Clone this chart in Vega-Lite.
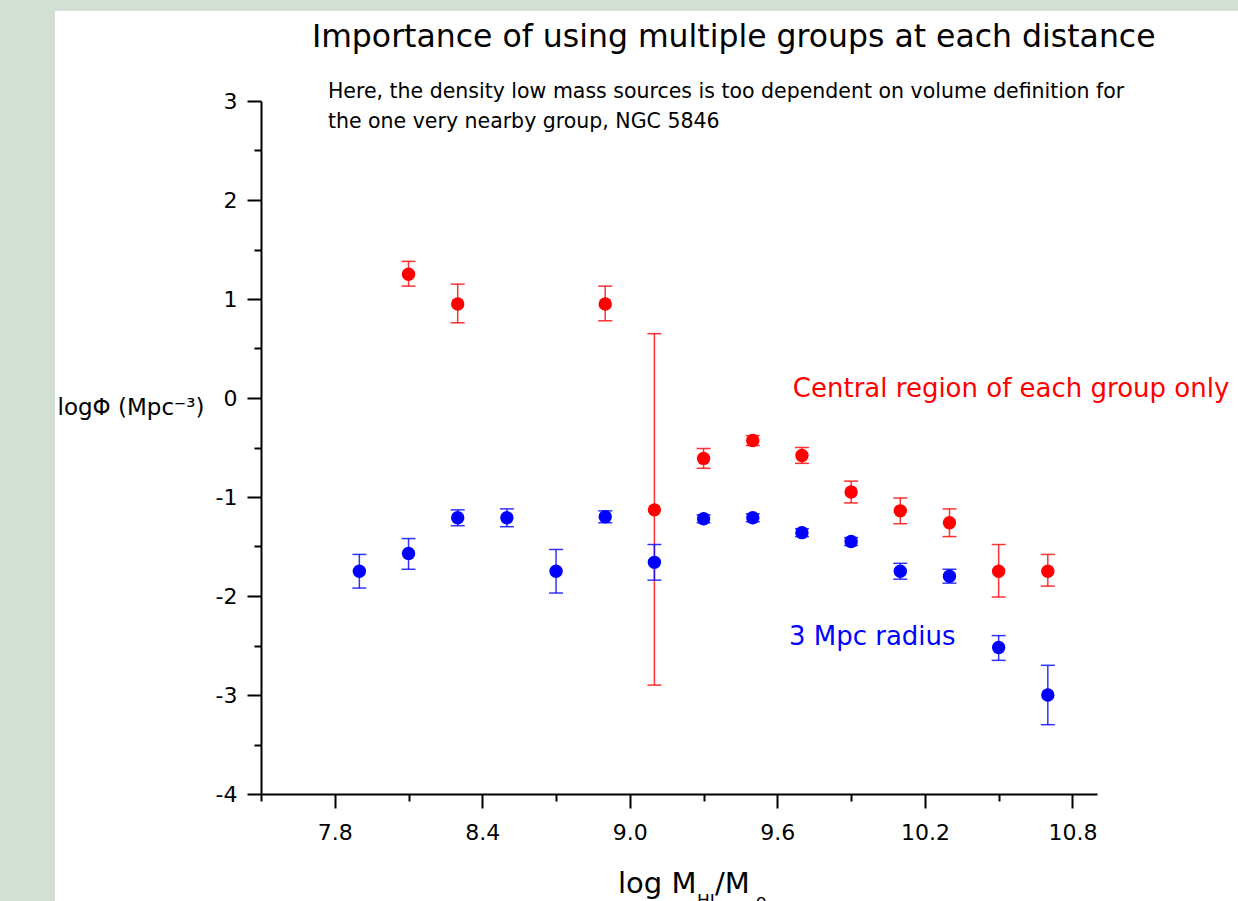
{
  "$schema": "https://vega.github.io/schema/vega-lite/v6.json",
  "width": 836,
  "height": 693,
  "autosize": {"type": "none"},
  "padding": {"left": 261, "top": 101, "right": 141, "bottom": 107},
  "background": "#d4dfd3",
  "config": {"view": {"stroke": null}, "font": "DejaVu Sans"},
  "datasets": {
    "lf": [
      {"group": "central", "logM": 8.1, "logPhi": 1.25, "lo": 1.13, "hi": 1.38},
      {"group": "central", "logM": 8.3, "logPhi": 0.95, "lo": 0.76, "hi": 1.15},
      {"group": "central", "logM": 8.9, "logPhi": 0.95, "lo": 0.78, "hi": 1.13},
      {"group": "central", "logM": 9.1, "logPhi": -1.13, "lo": -2.9, "hi": 0.65},
      {"group": "central", "logM": 9.3, "logPhi": -0.61, "lo": -0.71, "hi": -0.51},
      {"group": "central", "logM": 9.5, "logPhi": -0.43, "lo": -0.48, "hi": -0.38},
      {"group": "central", "logM": 9.7, "logPhi": -0.58, "lo": -0.66, "hi": -0.5},
      {"group": "central", "logM": 9.9, "logPhi": -0.95, "lo": -1.06, "hi": -0.84},
      {"group": "central", "logM": 10.1, "logPhi": -1.14, "lo": -1.27, "hi": -1.01},
      {"group": "central", "logM": 10.3, "logPhi": -1.26, "lo": -1.4, "hi": -1.12},
      {"group": "central", "logM": 10.5, "logPhi": -1.75, "lo": -2.01, "hi": -1.48},
      {"group": "central", "logM": 10.7, "logPhi": -1.75, "lo": -1.9, "hi": -1.58},
      {"group": "r3", "logM": 7.9, "logPhi": -1.75, "lo": -1.92, "hi": -1.58},
      {"group": "r3", "logM": 8.1, "logPhi": -1.57, "lo": -1.73, "hi": -1.42},
      {"group": "r3", "logM": 8.3, "logPhi": -1.21, "lo": -1.29, "hi": -1.13},
      {"group": "r3", "logM": 8.5, "logPhi": -1.21, "lo": -1.3, "hi": -1.12},
      {"group": "r3", "logM": 8.7, "logPhi": -1.75, "lo": -1.97, "hi": -1.53},
      {"group": "r3", "logM": 8.9, "logPhi": -1.2, "lo": -1.26, "hi": -1.14},
      {"group": "r3", "logM": 9.1, "logPhi": -1.66, "lo": -1.84, "hi": -1.48},
      {"group": "r3", "logM": 9.3, "logPhi": -1.22, "lo": -1.26, "hi": -1.18},
      {"group": "r3", "logM": 9.5, "logPhi": -1.21, "lo": -1.25, "hi": -1.17},
      {"group": "r3", "logM": 9.7, "logPhi": -1.36, "lo": -1.4, "hi": -1.32},
      {"group": "r3", "logM": 9.9, "logPhi": -1.45, "lo": -1.49, "hi": -1.41},
      {"group": "r3", "logM": 10.1, "logPhi": -1.75, "lo": -1.83, "hi": -1.67},
      {"group": "r3", "logM": 10.3, "logPhi": -1.8, "lo": -1.87, "hi": -1.73},
      {"group": "r3", "logM": 10.5, "logPhi": -2.52, "lo": -2.65, "hi": -2.4},
      {"group": "r3", "logM": 10.7, "logPhi": -3.0, "lo": -3.3, "hi": -2.7}
    ],
    "heading": [
      {"x": 7.707, "y": 3.545, "text": "Importance of using multiple groups at each distance"}
    ],
    "notes": [
      {"x": 7.772, "y": 3.03, "text": "Here, the density low  mass sources is too dependent on volume definition for"},
      {"x": 7.772, "y": 2.727, "text": "the one very nearby group, NGC 5846"}
    ],
    "centralLabel": [
      {"x": 9.663, "y": 0.01, "text": "Central region of each group only"}
    ],
    "r3Label": [
      {"x": 9.647, "y": -2.495, "text": "3 Mpc radius"}
    ],
    "xTitleMain": [
      {"x": 8.952, "y": -5.0, "text": "log M"},
      {"x": 9.346, "y": -5.0, "text": "/M"}
    ],
    "xTitleSub": [
      {"x": 9.273, "y": -5.14, "text": "HI"},
      {"x": 9.513, "y": -5.14, "text": "o"}
    ]
  },
  "layer": [
    {
      "data": {"values": [{}]},
      "mark": {"type": "rect", "color": "white"},
      "encoding": {
        "x": {"datum": 6.662, "type": "quantitative"},
        "x2": {"datum": 12.5},
        "y": {"datum": 3.91, "type": "quantitative"},
        "y2": {"datum": -7}
      }
    },
    {
      "data": {"name": "lf"},
      "mark": {"type": "rule", "strokeWidth": 1.5, "opacity": 0.8},
      "encoding": {
        "x": {"field": "logM", "type": "quantitative"},
        "y": {"field": "lo", "type": "quantitative"},
        "y2": {"field": "hi"},
        "color": {"field": "group", "type": "nominal", "scale": {"domain": ["central", "r3"], "range": ["#ff0000", "#0000ff"]}, "legend": null}
      }
    },
    {
      "data": {"name": "lf"},
      "mark": {"type": "tick", "orient": "horizontal", "size": 14, "thickness": 1.5, "opacity": 0.8},
      "encoding": {
        "x": {"field": "logM", "type": "quantitative"},
        "y": {"field": "lo", "type": "quantitative"},
        "color": {"field": "group", "type": "nominal", "legend": null}
      }
    },
    {
      "data": {"name": "lf"},
      "mark": {"type": "tick", "orient": "horizontal", "size": 14, "thickness": 1.5, "opacity": 0.8},
      "encoding": {
        "x": {"field": "logM", "type": "quantitative"},
        "y": {"field": "hi", "type": "quantitative"},
        "color": {"field": "group", "type": "nominal", "legend": null}
      }
    },
    {
      "data": {"name": "lf"},
      "mark": {"type": "circle", "size": 180, "opacity": 1},
      "encoding": {
        "x": {
          "field": "logM", "type": "quantitative",
          "scale": {"domain": [7.5, 10.9], "nice": false, "zero": false},
          "axis": {
            "title": null,
            "zindex": 1,
            "grid": false,
            "values": [7.5, 7.8, 8.1, 8.4, 8.7, 9.0, 9.3, 9.6, 9.9, 10.2, 10.5, 10.8],
            "labelExpr": "abs((datum.value - 7.8) / 0.6 - round((datum.value - 7.8) / 0.6)) < 0.01 ? format(datum.value, '.1f') : ''",
            "tickSize": {"condition": {"test": "abs((datum.value - 7.8) / 0.6 - round((datum.value - 7.8) / 0.6)) < 0.01", "value": 14}, "value": 7},
            "tickColor": "black", "tickWidth": 2,
            "domainColor": "black", "domainWidth": 2,
            "labelFont": "DejaVu Sans", "labelFontSize": 22, "labelColor": "black",
            "labelPadding": 14, "labelFlush": false, "labelOverlap": false
          }
        },
        "y": {
          "field": "logPhi", "type": "quantitative",
          "scale": {"domain": [-4, 3], "nice": false, "zero": false},
          "axis": {
            "title": "logΦ (Mpc⁻³)",
            "zindex": 1,
            "titleAngle": 0, "titleAlign": "left", "titleBaseline": "alphabetic",
            "titleX": -204, "titleY": 313,
            "titleFont": "DejaVu Sans", "titleFontSize": 23, "titleFontWeight": "normal", "titleColor": "black",
            "grid": false,
            "values": [-4, -3.5, -3, -2.5, -2, -1.5, -1, -0.5, 0, 0.5, 1, 1.5, 2, 2.5, 3],
            "labelExpr": "abs(datum.value - round(datum.value)) < 0.01 ? toString(round(datum.value)) : ''",
            "tickSize": {"condition": {"test": "abs(datum.value - round(datum.value)) < 0.01", "value": 14}, "value": 7},
            "tickColor": "black", "tickWidth": 2,
            "domainColor": "black", "domainWidth": 2,
            "labelFont": "DejaVu Sans", "labelFontSize": 22, "labelColor": "black",
            "labelPadding": 10, "labelFlush": false, "labelOverlap": false
          }
        },
        "color": {"field": "group", "type": "nominal", "legend": null}
      }
    },
    {
      "data": {"name": "heading"},
      "mark": {"type": "text", "align": "left", "baseline": "alphabetic", "fontSize": 31.5, "color": "black", "font": "DejaVu Sans"},
      "encoding": {
        "x": {"field": "x", "type": "quantitative"},
        "y": {"field": "y", "type": "quantitative"},
        "text": {"field": "text"}
      }
    },
    {
      "data": {"name": "notes"},
      "mark": {"type": "text", "align": "left", "baseline": "alphabetic", "fontSize": 20.5, "color": "black", "font": "DejaVu Sans"},
      "encoding": {
        "x": {"field": "x", "type": "quantitative"},
        "y": {"field": "y", "type": "quantitative"},
        "text": {"field": "text"}
      }
    },
    {
      "data": {"name": "centralLabel"},
      "mark": {"type": "text", "align": "left", "baseline": "alphabetic", "fontSize": 26, "color": "#ff0000", "font": "DejaVu Sans"},
      "encoding": {
        "x": {"field": "x", "type": "quantitative"},
        "y": {"field": "y", "type": "quantitative"},
        "text": {"field": "text"}
      }
    },
    {
      "data": {"name": "r3Label"},
      "mark": {"type": "text", "align": "left", "baseline": "alphabetic", "fontSize": 26, "color": "#0000ff", "font": "DejaVu Sans"},
      "encoding": {
        "x": {"field": "x", "type": "quantitative"},
        "y": {"field": "y", "type": "quantitative"},
        "text": {"field": "text"}
      }
    },
    {
      "data": {"name": "xTitleMain"},
      "mark": {"type": "text", "align": "left", "baseline": "alphabetic", "fontSize": 29, "color": "black", "font": "DejaVu Sans"},
      "encoding": {
        "x": {"field": "x", "type": "quantitative"},
        "y": {"field": "y", "type": "quantitative"},
        "text": {"field": "text"}
      }
    },
    {
      "data": {"name": "xTitleSub"},
      "mark": {"type": "text", "align": "left", "baseline": "alphabetic", "fontSize": 17, "color": "black", "font": "DejaVu Sans"},
      "encoding": {
        "x": {"field": "x", "type": "quantitative"},
        "y": {"field": "y", "type": "quantitative"},
        "text": {"field": "text"}
      }
    }
  ]
}
